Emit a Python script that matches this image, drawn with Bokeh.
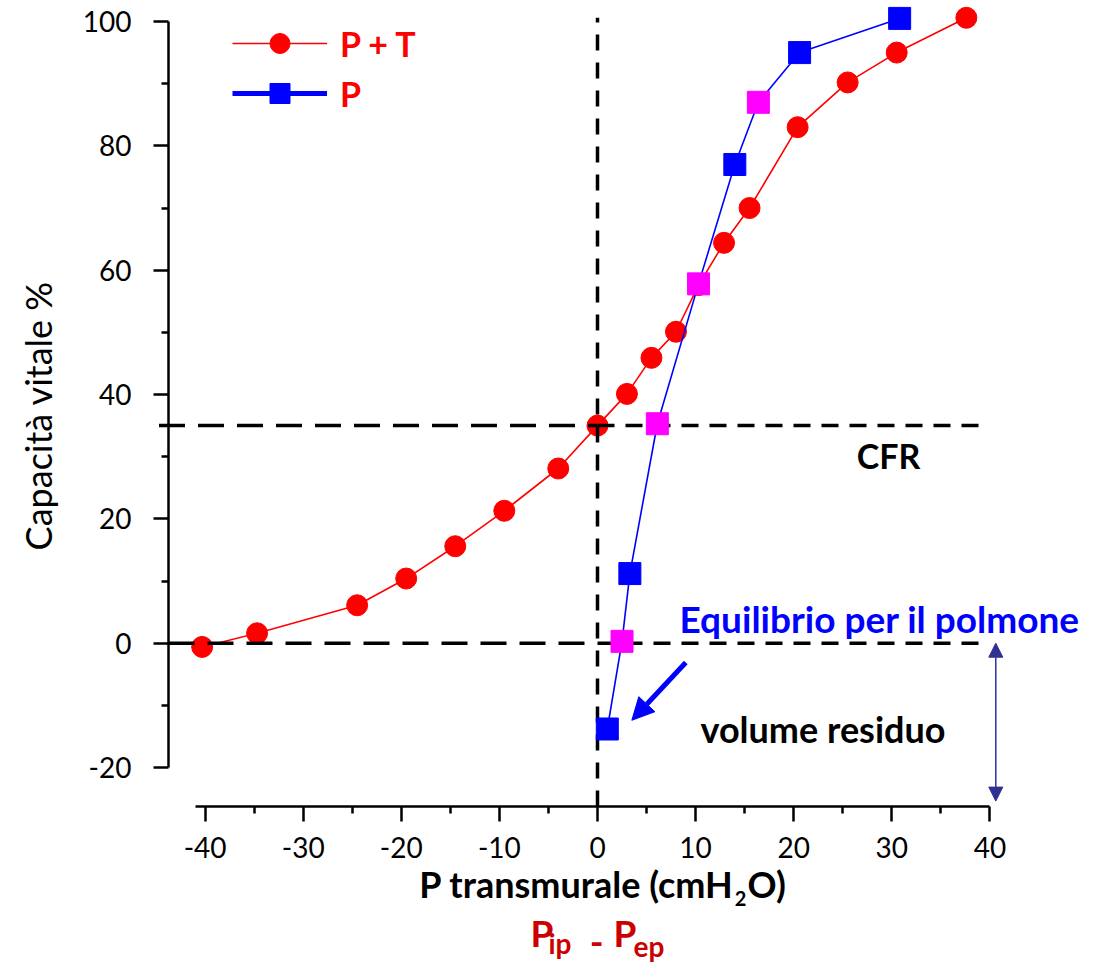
import math
from bokeh.plotting import figure
from bokeh.models import (ColumnDataSource, FixedTicker, Label, Arrow, NormalHead,
                          Legend, LegendItem, Range1d)
from bokeh.embed import file_html
from bokeh.resources import INLINE

# ---------------- data ----------------
# P + T (red circles)
pt_x = [-40.3, -34.7, -24.5, -19.5, -14.5, -9.5, -4.0, 0.0, 3.0, 5.5, 8.0,
        10.3, 12.9, 15.5, 20.4, 25.5, 30.5, 37.6]
pt_y = [-0.6, 1.6, 6.1, 10.4, 15.6, 21.3, 28.1, 35.0, 40.1, 45.9, 50.1,
        57.6, 64.4, 70.0, 83.0, 90.2, 95.0, 100.6]
# P (squares)
p_x = [1.0, 2.5, 3.3, 6.1, 10.3, 14.0, 16.4, 20.6, 30.8]
p_y = [-13.8, 0.3, 11.2, 35.3, 57.8, 77.0, 87.0, 95.0, 100.5]
p_color = ["#0000FF", "#FF00FF", "#0000FF", "#FF00FF", "#FF00FF",
           "#0000FF", "#FF00FF", "#0000FF", "#0000FF"]

x_ticks = [-40, -30, -20, -10, 0, 10, 20, 30, 40]
x_minor = [-35, -25, -15, -5, 5, 15, 25, 35]
y_ticks = [-20, 0, 20, 40, 60, 80, 100]
y_minor = [-10, 10, 30, 50, 70, 90]

CFR_LEVEL = 35      # capacità funzionale residua
EQ_LEVEL = 0        # equilibrio per il polmone
P_ZERO = 0          # pressione transmurale nulla

X_AXIS_AT = -26.27  # where the x axis sits (y value)
Y_AXIS_AT = -43.73  # where the y axis sits (x value)

# ---------------- figure ----------------
p = figure(width=1102, height=963, title=None,
           x_range=Range1d(-60.856, 51.478), y_range=Range1d(-51.52, 103.378),
           output_backend="svg", toolbar_location=None,
           min_border_left=0, min_border_right=0,
           min_border_top=0, min_border_bottom=0)
p.outline_line_color = None
p.grid.visible = False
p.background_fill_color = "white"
p.border_fill_color = "white"

for ax, ticks, minor, bounds, loc in (
        (p.xaxis[0], x_ticks, x_minor, (-41, 40), X_AXIS_AT),
        (p.yaxis[0], y_ticks, y_minor, (-20, 100), Y_AXIS_AT)):
    ax.fixed_location = loc
    ax.ticker = FixedTicker(ticks=ticks, minor_ticks=minor)
    ax.major_label_overrides = {t: str(t) for t in ticks}
    ax.bounds = bounds
    ax.axis_line_width = 2.5
    ax.axis_line_color = "black"
    ax.major_tick_line_width = 2.5
    ax.minor_tick_line_width = 2.5
    ax.major_tick_line_color = "black"
    ax.minor_tick_line_color = "black"
    ax.major_tick_in = 0
    ax.major_tick_out = 15
    ax.minor_tick_in = 0
    ax.minor_tick_out = 7
    ax.major_label_text_font = "Lato"
    ax.major_label_text_font_size = "28px"
    ax.major_label_text_color = "black"
p.xaxis[0].major_label_standoff = 15
p.yaxis[0].major_label_standoff = 22

# ---------------- P + T series ----------------
src_pt = ColumnDataSource(dict(x=pt_x, y=pt_y))
pt_line = p.line("x", "y", source=src_pt, line_color="#FF0000", line_width=1.6)
pt_dots = p.scatter("x", "y", source=src_pt, marker="circle", size=21,
                    fill_color="#FF0000", line_color="#FF0000")

# ---------------- reference dashed lines ----------------
x1 = 39.6
p.segment(x0=[-44.7, Y_AXIS_AT], y0=[CFR_LEVEL, EQ_LEVEL], x1=[P_ZERO, P_ZERO],
          y1=[CFR_LEVEL, EQ_LEVEL], line_color="black", line_width=3.5,
          line_dash="26 13")
p.segment(x0=[P_ZERO, P_ZERO], y0=[CFR_LEVEL, EQ_LEVEL], x1=[x1, x1],
          y1=[CFR_LEVEL, EQ_LEVEL], line_color="black", line_width=3.5,
          line_dash="17 11")
p.segment(x0=[P_ZERO], y0=[X_AXIS_AT], x1=[P_ZERO], y1=[100.6],
          line_color="black", line_width=3.5, line_dash="16 12")

# ---------------- P series ----------------
src_p = ColumnDataSource(dict(x=p_x, y=p_y, c=p_color))
p.line("x", "y", source=src_p, line_color="#0000FF", line_width=1.6)
p_sq = p.scatter("x", "y", source=src_p, marker="square", size=22,
                 fill_color="c", line_color="c")
# thick line used only for the legend swatch (muted -> invisible in the plot)
p_leg_line = p.line("x", "y", source=src_p, line_color="#0000FF", line_width=5,
                    muted_alpha=0)
p_leg_line.muted = True

# ---------------- legend ----------------
legend = Legend(items=[LegendItem(label="P + T", renderers=[pt_line, pt_dots], index=0),
                       LegendItem(label="P", renderers=[p_leg_line, p_sq], index=0)],
                location=(232, 845), glyph_width=95, glyph_height=50,
                label_standoff=13, padding=0, margin=0, spacing=0,
                border_line_alpha=0, background_fill_alpha=0,
                label_text_font="Lato", label_text_font_style="bold",
                label_text_font_size="34px", label_text_color="#FF0000")
p.add_layout(legend)

# ---------------- arrows ----------------
p.add_layout(Arrow(end=NormalHead(size=22, fill_color="#0000FF", line_color="#0000FF"),
                   x_start=9.0, y_start=-3.1, x_end=3.5, y_end=-12.4,
                   line_color="#0000FF", line_width=5))
p.add_layout(Arrow(start=NormalHead(size=14, fill_color="#2E3192", line_color="#2E3192"),
                   end=NormalHead(size=14, fill_color="#2E3192", line_color="#2E3192"),
                   x_start=40.6, y_start=EQ_LEVEL, x_end=40.6, y_end=-25.4,
                   line_color="#2E3192", line_width=1.5))

# ---------------- texts ----------------
def lab(x, y, text, size, color="black", bold=True, align="left", angle=0):
    p.add_layout(Label(x=x, y=y, text=text, text_font="Lato",
                       text_font_size=size, text_color=color,
                       text_font_style="bold" if bold else "normal",
                       text_align=align, text_baseline="middle", angle=angle))

lab(29.66, 30.2, "CFR", "34px", align="center")
lab(8.36, 4.05, "Equilibrio per il polmone", "37px", color="#0000FF")
lab(10.5, -13.8, "volume residuo", "36px")

# y axis title
lab(-57.0, 36.6, "Capacità vitale %", "36px", bold=False, align="center",
    angle=math.pi / 2)

# x axis title: P transmurale (cmH2O)
lab(13.9, -38.7, "P transmurale (cmH", "36px", align="right")
lab(14.0, -41.1, "2", "20px")
lab(15.3, -38.7, "O)", "36px")

# Pip - Pep
DR = "#CC0000"
lab(-6.83, -46.5, "P", "37px", color=DR)
lab(-5.0, -48.2, "ip", "28px", color=DR)
lab(-0.8, -48.0, "-", "37px", color=DR)
lab(1.63, -46.5, "P", "37px", color=DR)
lab(3.67, -48.7, "ep", "28px", color=DR)

open("out.html", "w").write(file_html(p, INLINE))
